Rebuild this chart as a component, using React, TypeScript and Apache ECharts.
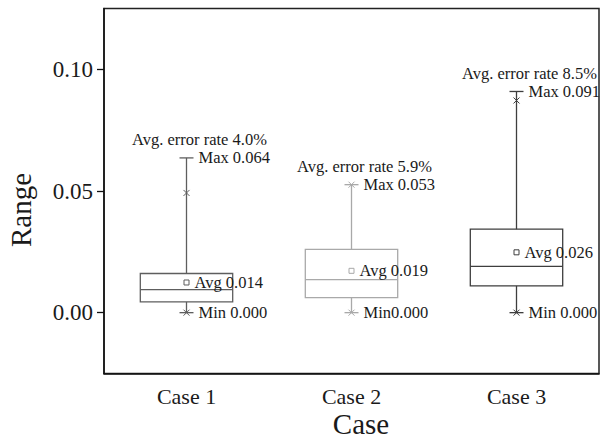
import React, { useEffect, useRef } from "react";
import * as echarts from "echarts";

const cases = ["Case 1", "Case 2", "Case 3"];
const minVals = [0.0, 0.0, 0.0];
const q1Vals = [0.0044, 0.0062, 0.011];
const medianVals = [0.0095, 0.0136, 0.019];
const q3Vals = [0.0161, 0.026, 0.0343];
const maxVals = [0.0636, 0.0526, 0.0909];
const avgVals = [0.0124, 0.0172, 0.0248];
const crossHiVals = [0.0492, 0.0526, 0.0872];
const crossLoVals = [0.0, 0.0, 0.0];
const errorRateTexts = ["Avg. error rate 4.0%", "Avg. error rate 5.9%", "Avg. error rate 8.5%"];
const maxTexts = ["Max 0.064", "Max 0.053", "Max 0.091"];
const avgTexts = ["Avg 0.014", "Avg 0.019", "Avg 0.026"];
const minTexts = ["Min 0.000", "Min0.000", "Min 0.000"];
const yTickValues = [0, 0.05, 0.1];

const strokeColors = ["#5e5e5e", "#a9a9a9", "#3e3e3e"];
const FONT = '"Liberation Serif", "Times New Roman", serif';

export default function App() {
  const ref = useRef<HTMLDivElement>(null);
  useEffect(() => {
    document.body.style.margin = "0";
    const chart = echarts.init(ref.current!, null, { renderer: "svg" });
    const data = cases.map((_, i) => [
      i,
      minVals[i],
      q1Vals[i],
      medianVals[i],
      q3Vals[i],
      maxVals[i],
      avgVals[i],
      crossHiVals[i],
      crossLoVals[i],
    ]);
    const renderItem = (params: any, api: any) => {
      const i = api.value(0);
      const cx = api.coord([i, 0])[0];
      const Y = (v: number) => api.coord([i, v])[1];
      const band = api.size([1, 0])[0];
      const hw = band * 0.28;
      const c = strokeColors[i];
      const yMin = Y(api.value(1));
      const yQ1 = Y(api.value(2));
      const yMed = Y(api.value(3));
      const yQ3 = Y(api.value(4));
      const yMax = Y(api.value(5));
      const yAvg = Y(api.value(6));
      const yCH = Y(api.value(7));
      const yCL = Y(api.value(8));
      const ls = { stroke: c, lineWidth: 1.3, fill: "none" };
      const line = (x1: number, y1: number, x2: number, y2: number, st: any = ls) => ({
        type: "line",
        shape: { x1, y1, x2, y2 },
        style: st,
      });
      const cross = (y: number) => {
        const s = 3;
        const st = { stroke: c, lineWidth: 1, fill: "none" };
        return [line(cx - s, y - s, cx + s, y + s, st), line(cx - s, y + s, cx + s, y - s, st)];
      };
      const text = (t: string, x: number, y: number, align: string) => ({
        type: "text",
        x,
        y,
        style: {
          text: t,
          font: `16.5px ${FONT}`,
          fill: "#1a1a1a",
          align,
          verticalAlign: "middle",
        },
      });
      const children: any[] = [
        {
          type: "rect",
          shape: { x: cx - hw, y: yQ3, width: hw * 2, height: yQ1 - yQ3 },
          style: { fill: "none", stroke: c, lineWidth: 1.3 },
        },
        line(cx - hw, yMed, cx + hw, yMed),
        line(cx, yQ3, cx, yMax),
        line(cx, yQ1, cx, yMin),
        line(cx - 7, yMax, cx + 7, yMax),
        line(cx - 7, yMin, cx + 7, yMin),
        ...cross(yCH),
        ...cross(yCL),
        {
          type: "rect",
          shape: { x: cx - 2.5, y: yAvg - 2.5, width: 5, height: 5 },
          style: { fill: "#fff", stroke: c, lineWidth: 1 },
        },
        text(errorRateTexts[i], cx + 13, yMax - 18, "center"),
        text(maxTexts[i], cx + 12, yMax, "left"),
        text(avgTexts[i], cx + 8, yAvg, "left"),
        text(minTexts[i], cx + 12, yMin, "left"),
      ];
      return { type: "group", children };
    };
    chart.setOption({
      animation: false,
      backgroundColor: "#fff",
      grid: {
        left: 104,
        right: 1,
        top: 8.5,
        bottom: 67.5,
        show: true,
        borderColor: "#222",
        borderWidth: 1.5,
      },
      xAxis: {
        type: "category",
        data: cases,
        boundaryGap: true,
        axisLine: { onZero: false, lineStyle: { color: "#111", width: 1.5 } },
        axisTick: { alignWithLabel: true, length: 7, lineStyle: { color: "#111", width: 1.3 } },
        axisLabel: { fontFamily: FONT, fontSize: 22, color: "#1a1a1a", margin: 12 },
        splitLine: { show: false },
      },
      yAxis: {
        type: "value",
        min: -0.025,
        max: 0.125,
        axisLine: { show: true, onZero: false, lineStyle: { color: "#111", width: 1.5 } },
        axisTick: {
          show: true,
          length: 7,
          customValues: yTickValues,
          lineStyle: { color: "#111", width: 1.3 },
        },
        axisLabel: {
          fontFamily: FONT,
          fontSize: 23,
          color: "#1a1a1a",
          margin: 11,
          customValues: yTickValues,
          formatter: (v: number) => v.toFixed(2),
        },
        splitLine: { show: false },
      },
      graphic: [
        {
          type: "text",
          x: 21,
          y: 210,
          rotation: Math.PI / 2,
          style: {
            text: "Range",
            font: `29px ${FONT}`,
            fill: "#1a1a1a",
            align: "center",
            verticalAlign: "middle",
          },
        },
        {
          type: "text",
          x: 361,
          y: 424,
          style: {
            text: "Case",
            font: `29px ${FONT}`,
            fill: "#1a1a1a",
            align: "center",
            verticalAlign: "middle",
          },
        },
      ],
      series: [
        {
          type: "custom",
          renderItem,
          data,
          clip: false,
          encode: { x: 0, y: [1, 5] },
          z: 5,
        },
      ],
    });
    return () => chart.dispose();
  }, []);
  return (
    <div
      ref={ref}
      style={{ position: "fixed", left: 0, top: 0, width: 600, height: 441 }}
    />
  );
}
